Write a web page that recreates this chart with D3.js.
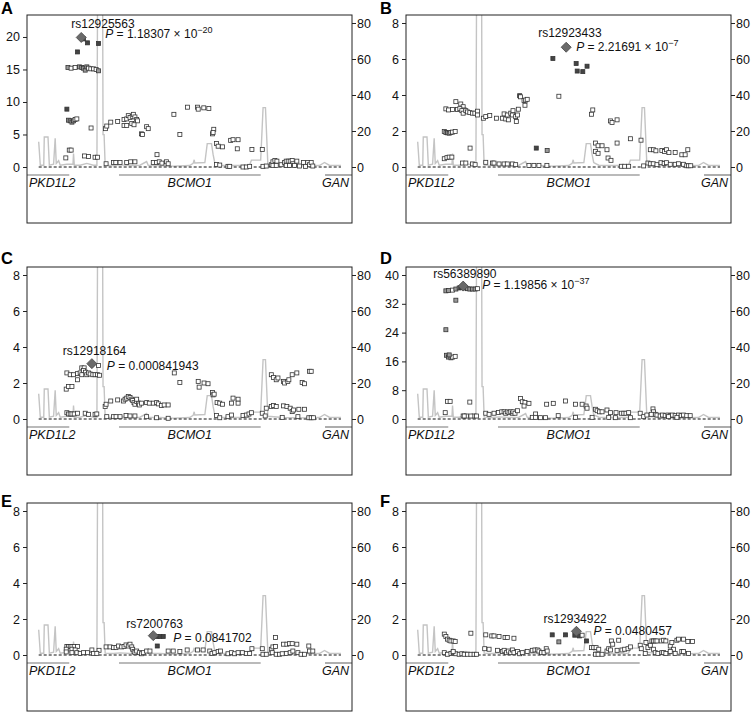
<!DOCTYPE html>
<html>
<head>
<meta charset="utf-8">
<script src="https://cdn.jsdelivr.net/npm/d3@7"></script>
<style>
  body { margin: 0; background: #fff; }
  svg { display: block; font-family: "Liberation Sans", Arial, sans-serif; }
</style>
</head>
<body>
<svg id="chart" width="752" height="712"></svg>
<script>
// region shown: ~122 kb of chr16 around BCMO1, positions are kb from the left edge
const regionKb = 122.25;

const panelLetters = ["A", "B", "C", "D", "E", "F"];
const leadIds = ["rs12925563", "rs12923433", "rs12918164", "rs56389890", "rs7200763", "rs12934922"];
const leadPos = [20.4, 60.25, 24.4, 21.5, 47.5, 64.1];
const leadPMant = ["1.18307", "2.21691", "0.000841943", "1.19856", "0.0841702", "0.0480457"];
const leadPExp = [-20, -7, 0, -37, 0, 0];

const leftMax = [22.15, 8, 8, 40, 8, 8];
const leftTicks = [
  [0, 5, 10, 15, 20],
  [0, 2, 4, 6, 8],
  [0, 2, 4, 6, 8],
  [0, 8, 16, 24, 32, 40],
  [0, 2, 4, 6, 8],
  [0, 2, 4, 6, 8],
];
const rightTicks = [0, 20, 40, 60, 80];

const geneNames = ["PKD1L2", "BCMO1", "GAN"];
const geneStart = [-10, 34.6, 112.1];
const geneEnd = [15.9, 87.9, 135];

// recombination rate (cM/Mb)
const recombPos = [4.4, 5.0, 6.3, 6.5, 7.9, 8.4, 10.0, 10.6, 11.0, 11.9, 12.5, 15.0, 17.3, 17.5, 17.8,
  20.0, 22.5, 25.0, 26.3, 26.6, 28.4, 28.6, 29.0, 29.4, 32.5, 35.0, 38.7, 42.5, 45.0, 45.6, 50.0,
  55.0, 61.2, 62.5, 62.9, 63.1, 66.9, 67.8, 69.4, 70.0, 70.6, 72.5, 77.5, 83.7, 84.4, 87.9, 88.8,
  89.7, 90.6, 96.3, 102.5, 110.0, 111.9, 113.7, 118.1];
const recombRate = [14, 1, 1, 16.7, 16.7, 1, 1.5, 16, 2, 3.5, 1, 1.5, 1.5, 7.5, 1,
  1, 2, 1, 1, 120, 120, 18, 18, 1, 0.8, 1.2, 0.8, 1, 3, 1, 0.8,
  0.5, 0.8, 2, 4, 2.2, 2.5, 13, 13, 7, 2.5, 1, 0.8, 1, 3.8, 3.8, 33,
  33, 1.5, 0.8, 0.6, 0.8, 2.5, 1, 0.8];

// SNPs: [position kb, -log10 P, LD shade 0 open / 1 grey / 2 dark]
const snpsA = [
  [21.25, 19.7, 2], [22.75, 19.1, 2], [26.9, 19.0, 2], [19, 17.7, 2],
  [15.4, 15.3, 1], [16.6, 15.2, 0], [18.1, 15.3, 0], [19.75, 15.4, 1], [20.6, 15.3, 1], [21.25, 15.2, 1],
  [21.9, 14.9, 1], [22.5, 15.4, 1], [23.1, 15.2, 0], [24, 15.1, 0], [25, 15.1, 0], [26, 15.0, 0], [26.9, 14.8, 1],
  [15, 8.9, 2], [15.6, 7.2, 1], [16.25, 7.1, 1], [16.9, 6.9, 1], [17.5, 7.1, 1], [18.1, 7.3, 0], [18.75, 7.4, 0],
  [24.1, 6.0, 0], [15.9, 2.6, 0], [16.6, 2.6, 0], [14.6, 1.4, 0], [21.6, 1.7, 0], [23.1, 1.6, 0], [25.6, 1.5, 0], [26.5, 1.5, 0],
  [29.5, 5.9, 0], [30, 6.3, 0], [31.5, 6.9, 0], [34.1, 7.0, 0], [36.5, 7.3, 0], [37.5, 7.4, 0], [38.1, 7.9, 0],
  [38.75, 7.6, 0], [39.6, 7.8, 0], [40, 8.1, 0], [40.6, 7.7, 0], [41.25, 7.3, 0], [41.6, 7.1, 0], [36.5, 6.4, 0],
  [37.5, 6.4, 0], [39.4, 6.7, 0], [40.25, 6.5, 0], [43.1, 5.1, 0], [43.4, 5.0, 0], [45, 6.2, 0], [45.6, 5.9, 0],
  [48.9, 1.9, 0], [55.25, 8.1, 0], [57.5, 5.0, 0], [60.4, 9.2, 0], [64.1, 9.2, 0], [64.4, 8.9, 0], [66.5, 9.1, 0], [68.4, 9.0, 0],
  [69.75, 5.1, 0], [70.25, 5.8, 0], [70, 5.3, 0], [71.25, 3.6, 0], [71.9, 3.2, 0], [73.5, 3.1, 0], [76.6, 4.1, 0],
  [77.5, 4.2, 0], [79.4, 4.2, 0], [79.1, 2.8, 0], [84.6, 2.7, 0], [88.5, 2.7, 0],
  [29.75, 0.5, 0], [32.5, 0.7, 0], [33.4, 0.7, 0], [35, 0.7, 0], [37.5, 0.7, 0], [39, 0.8, 0], [40.6, 0.8, 0],
  [47.5, 0.7, 0], [48.75, 0.7, 0], [49.75, 0.8, 0], [50.75, 0.6, 0], [52.5, 0.8, 0], [53.1, 0.5, 0], [71.25, 0.4, 0],
  [72.5, 0.3, 0], [75.6, 0.1, 0], [76.25, 0.1, 0], [81.25, 0, 0], [82.5, 0, 0], [83.75, 0.1, 0], [88.75, 0.1, 0],
  [90, 0.15, 0], [91.9, 0.35, 0], [92.5, 0.8, 0], [93.25, 1.0, 0], [94, 0.9, 0], [92.5, 0.25, 0], [93.75, 0.25, 0],
  [95.6, 0.35, 0], [96.9, 0.7, 0], [97.5, 0.9, 0], [98.25, 0.9, 0], [99, 0.9, 0], [99.75, 1.0, 0], [100, 0.5, 0],
  [100.6, 0.25, 0], [101.5, 0.9, 0], [102.5, 0.15, 0], [104, 0.7, 0], [104.75, 0.1, 0], [105.6, 0.7, 0],
  [106.25, 0.35, 0], [106.9, 0.7, 0], [107.5, 0.15, 0], [97.5, 0.25, 0], [98.75, 0.25, 0],
];

const snpsB = [
  [55.25, 6.03, 2], [64, 5.75, 2], [68.1, 5.6, 2], [64.4, 5.33, 2], [66.5, 5.3, 2], [57.5, 3.93, 0],
  [70.25, 3.17, 0], [69.75, 2.93, 0], [76.9, 2.56, 0], [77.5, 2.47, 0], [79.4, 2.62, 0], [84.4, 1.57, 0],
  [88.4, 1.49, 0], [79.4, 1.33, 0], [71.25, 1.33, 0], [72.25, 1.18, 0], [73.75, 1.18, 0], [71.25, 0.87, 0],
  [72.25, 0.76, 0], [75.6, 0.96, 0], [76, 0.5, 0], [77.1, 0.37, 0], [49, 1.05, 2], [53.1, 0.92, 1],
  [91.9, 0.96, 0], [93.1, 0.96, 0], [94, 0.9, 0], [96.25, 0.92, 0], [97.25, 0.86, 0], [98, 0.96, 0],
  [98.9, 0.8, 0], [101.25, 0.81, 0], [103.75, 0.68, 0], [105, 0.68, 0], [106, 0.96, 0],
  [91, 0.22, 0], [91.9, 0.18, 0], [93, 0.18, 0], [94.4, 0.13, 0], [95.9, 0.24, 0], [97.1, 0.2, 0], [98, 0.24, 0],
  [99.4, 0.15, 0], [101.25, 0.15, 0], [102.5, 0.18, 0], [104.4, 0.15, 0], [105.6, 0.07, 0], [106.25, 0.07, 0],
  [107.1, 0.07, 0], [81, 0.04, 0], [82.25, 0.04, 0], [83.75, 0.04, 0], [89.4, 0.06, 0], [46.25, 0.09, 0],
  [48.1, 0.09, 0], [50, 0.09, 0], [53, 0.09, 0],
  [18.75, 3.63, 0], [20.6, 3.5, 0], [21.5, 3.35, 0], [21.9, 3.17, 0], [15, 3.23, 0], [16, 3.17, 0], [17.5, 3.2, 0],
  [19.4, 3.2, 0], [20.25, 3.24, 0], [21, 3.13, 0], [21.5, 2.99, 0], [22.5, 3.13, 0], [23.1, 3.06, 0], [24, 3.02, 0],
  [25, 2.99, 0], [25.9, 2.99, 0], [26.9, 3.1, 0], [26.9, 2.89, 0],
  [14.4, 1.97, 0], [15, 1.92, 1], [15.6, 1.9, 1], [16.25, 1.88, 1], [16.9, 1.92, 0], [17.5, 1.94, 0], [18.5, 1.97, 0],
  [14.4, 0.46, 0], [15.4, 0.52, 0], [16.25, 0.55, 0], [17.25, 0.55, 0], [24.1, 1.05, 0], [21.25, 0.22, 0],
  [22.5, 0.22, 0], [25, 0.17, 0], [26, 0.13, 0],
  [29.1, 2.71, 0], [30, 2.8, 0], [31.5, 2.86, 0], [34, 2.71, 0], [36.25, 2.71, 0], [36.9, 2.95, 0], [37.5, 2.67, 0],
  [38.1, 2.89, 0], [38.5, 2.62, 0], [39.4, 2.99, 0], [40, 2.89, 0], [40.25, 3.13, 0], [41.25, 2.8, 0], [41.5, 2.53, 0],
  [41.9, 2.89, 0], [42.25, 3.21, 0], [42.75, 3.96, 2], [43.1, 3.9, 0], [44.4, 3.69, 0], [45, 3.72, 0], [45.6, 3.76, 0],
  [44.75, 3.43, 0],
  [30, 0.26, 0], [32.5, 0.22, 0], [33.1, 0.22, 0], [35, 0.17, 0], [36.9, 0.17, 0], [38.1, 0.17, 0], [40, 0.17, 0], [41.25, 0.13, 0],
];

const snpsC = [
  [26.9, 2.97, 0],
  [15, 2.56, 0], [16.25, 2.46, 0], [17.5, 2.46, 0], [19, 2.52, 0], [20, 2.56, 0], [20.6, 2.84, 0], [21.5, 2.84, 0],
  [21.25, 2.7, 0], [22, 2.6, 0], [22.5, 2.46, 0], [23.1, 2.56, 0], [23.75, 2.5, 0], [24.75, 2.46, 0], [25.6, 2.46, 0],
  [26.5, 2.46, 0], [27.25, 2.43, 0], [20.6, 2.46, 0], [19, 2.18, 0],
  [14.75, 1.66, 0], [15.6, 1.81, 0], [16.9, 1.81, 0],
  [15, 0.35, 0], [15.6, 0.28, 0], [16.25, 0.28, 0], [16.9, 0.28, 0], [17.75, 0.28, 0], [19, 0.32, 0], [21.9, 0.32, 0],
  [23.1, 0.26, 0], [25.6, 0.26, 0], [26.25, 0.28, 0],
  [29.4, 0.69, 0], [29.75, 0.82, 0], [31.5, 1.0, 0], [34.1, 1.06, 0], [36.25, 1.0, 0], [36.9, 1.1, 0], [37.5, 1.16, 0],
  [38.1, 1.25, 0], [38.75, 1.19, 0], [39.4, 1.1, 0], [39.75, 1.03, 0], [40.25, 0.91, 0], [40.6, 0.82, 0], [41.25, 0.97, 0],
  [41.9, 0.88, 0], [42.25, 0.78, 0], [43.1, 0.88, 0], [45, 0.91, 0], [46, 0.88, 0], [47.5, 0.88, 0], [48.75, 0.91, 0],
  [49.4, 0.84, 0], [50.6, 0.75, 0], [51.6, 0.78, 0], [53.1, 0.78, 0], [41.25, 1.1, 0],
  [55.4, 2.56, 0], [57.5, 2.03, 0], [64.4, 2.09, 0], [64.75, 1.77, 0], [66.6, 2.0, 0], [68.1, 1.96, 0], [69.75, 1.47, 0],
  [70, 1.34, 0], [70.4, 1.38, 0], [71.5, 0.91, 0], [72.5, 0.88, 0], [73.5, 0.82, 0], [76.9, 0.88, 0], [77.5, 1.16, 0],
  [79.4, 1.1, 0], [79.4, 0.88, 0],
  [30, 0.13, 0], [32.5, 0.13, 0], [33.5, 0.13, 0], [35, 0.13, 0], [37.25, 0.19, 0], [38.75, 0.17, 0], [40.6, 0.17, 0],
  [45, 0.13, 0], [48.75, 0.07, 0], [53.1, 0.04, 0], [71.25, 0.19, 0], [72.5, 0.07, 0], [75.6, 0.13, 0], [76.9, 0.22, 0],
  [81.25, 0.19, 0], [82.5, 0.22, 0], [83.5, 0.28, 0], [84.4, 0.35, 0], [88.5, 0.32, 0], [89.6, 0.17, 0], [96, 0.09, 0],
  [101.9, 0.13, 0], [106, 0.07, 0], [106.9, 0.07, 0], [107.75, 0.07, 0],
  [91.9, 2.46, 0], [92.75, 2.31, 0], [93.75, 2.18, 0], [94.4, 2.28, 0], [96.5, 2.09, 0], [96.9, 2.0, 0], [98.1, 2.09, 0],
  [98.5, 2.18, 0], [99.75, 2.46, 0], [101.5, 2.56, 0], [106.25, 2.65, 0], [106.9, 2.65, 0], [103.5, 2.03, 0], [104.4, 1.96, 0],
  [90, 0.6, 0], [91.9, 0.69, 0], [92.75, 0.75, 0], [93.75, 0.69, 0], [96.5, 0.73, 0], [97.75, 0.69, 0], [99, 0.6, 0],
  [99.75, 0.41, 0], [100.25, 0.5, 0], [102.25, 0.54, 0], [104.4, 0.54, 0],
];

const snpsD = [
  [15, 35.6, 1], [16, 35.7, 1], [17.5, 35.8, 0], [18.75, 36.1, 1], [20, 36.4, 1], [20.6, 36.5, 2], [22.25, 36.4, 1],
  [23.1, 36.2, 1], [24, 36.1, 1], [25, 36.1, 1], [26, 36.1, 1], [26.9, 36.2, 0],
  [18.75, 33.0, 1], [15, 24.8, 1], [15.25, 17.7, 1], [16, 17.2, 1], [16.9, 17.0, 1], [17.5, 17.2, 0], [18.5, 17.4, 0],
  [16.25, 17.8, 1], [15.6, 4.9, 0], [16.6, 4.9, 0], [14.75, 1.76, 0], [24, 4.7, 0],
  [21.5, 0.83, 0], [22.75, 0.83, 0], [25.6, 0.83, 0], [26.5, 0.83, 0], [21.9, 0.83, 0], [24.4, 0.83, 0],
  [30, 1.6, 0], [31.25, 1.3, 0], [33.1, 1.6, 0], [34.75, 1.8, 0], [36, 2.0, 0], [36.9, 2.0, 0], [37.5, 1.6, 0],
  [38.1, 2.0, 0], [38.75, 1.76, 0], [39.4, 2.0, 0], [40, 1.6, 0], [40.25, 2.0, 0], [41, 1.6, 0], [41.9, 2.3, 0],
  [43.1, 5.7, 0], [43.75, 4.8, 0], [44.75, 4.6, 0], [44.4, 3.6, 0], [46.25, 4.35, 0],
  [48.75, 1.4, 0], [52.9, 4.1, 0], [55.4, 4.35, 0], [60, 5.0, 0], [63.75, 4.1, 0], [66.25, 4.1, 0], [67.75, 3.6, 0],
  [68.1, 3.0, 0], [57.25, 0.93, 0], [63.75, 0.46, 0], [71.25, 2.7, 0], [71.9, 2.3, 0], [72.75, 2.0, 0], [73.75, 2.0, 0],
  [75.6, 2.5, 0], [76.9, 1.76, 0], [79, 1.76, 0], [81, 1.6, 0], [81.9, 1.6, 0], [82.75, 1.6, 0], [83.75, 1.76, 0],
  [88.1, 1.6, 0], [92.9, 2.8, 0], [93.1, 2.0, 0], [93.75, 1.3, 0],
  [47.5, 0.46, 0], [48.75, 0.46, 0], [50.6, 0.37, 0], [52.5, 0.37, 0], [70, 0.46, 0], [76.25, 0.46, 0], [78.75, 0.37, 0],
  [84.4, 0.37, 0], [89.4, 0.65, 0], [90.6, 1.1, 0], [92.25, 1.3, 0], [94.4, 1.1, 0], [95.6, 0.83, 0], [96.5, 1.1, 0],
  [97.5, 0.93, 0], [98.5, 1.1, 0], [99.4, 0.93, 0], [100.25, 1.1, 0], [101.25, 0.93, 0], [102.5, 1.1, 0],
  [103.5, 0.93, 0], [104.4, 1.1, 0], [105.6, 0.93, 0], [106.9, 0.93, 0], [98.75, 0.65, 0], [101.9, 0.46, 0],
];

const snpsE = [
  [49, 1.03, 2], [50, 1.03, 2], [51.25, 1.03, 2],
  [15, 0.47, 0], [15.6, 0.47, 0], [16.25, 0.47, 0], [16.9, 0.47, 0], [17.75, 0.47, 0], [19, 0.47, 0], [14.75, 0.32, 0],
  [16.9, 0.32, 0], [18.1, 0.28, 0], [14.75, 0.17, 0], [16.9, 0.13, 0], [18.75, 0.13, 0], [20, 0.09, 0], [21.25, 0.13, 0],
  [22.75, 0.13, 0], [24.4, 0.28, 0], [25, 0.09, 0], [27.1, 0.26, 0], [26.25, 0.09, 0],
  [29.75, 0.45, 0], [31.25, 0.45, 0], [32.5, 0.41, 0], [33.5, 0.41, 0], [34.4, 0.5, 0], [35.6, 0.45, 0], [36.5, 0.47, 0],
  [37.25, 0.56, 0], [38.1, 0.5, 0], [38.75, 0.6, 0], [39.4, 0.45, 0], [39.75, 0.32, 0], [40.25, 0.19, 0], [40.6, 0.13, 0],
  [41.25, 0.22, 0], [42.25, 0.13, 0], [43.1, 0.07, 0], [43.75, 0.13, 0], [45, 0.22, 0], [46.25, 0.22, 0], [49, 0.5, 2],
  [53.1, 0.22, 0], [55, 0.22, 0], [57.5, 0.19, 0], [60.25, 0.28, 0], [64.1, 0.28, 0], [66.25, 0.28, 0], [68.75, 0.22, 0],
  [69.6, 0.09, 0], [70.6, 0.13, 0], [71.9, 0.19, 0], [72.75, 0.22, 0], [75.6, 0.07, 0], [76.9, 0.13, 0], [78.1, 0.07, 0],
  [79.4, 0.13, 0], [81, 0.13, 0], [82.5, 0.09, 0], [83.75, 0.09, 0], [84.6, 0.35, 0], [88.5, 0.35, 0], [88.75, 0.04, 0],
  [90, 0.04, 0], [91.9, 0.32, 0], [92.5, 0.45, 0], [93.5, 0.47, 0], [93.5, 0.97, 0], [92.25, 0.13, 0], [93.75, 0.04, 0],
  [95, 0.04, 0], [96.5, 0.6, 0], [97.75, 0.6, 0], [98.75, 0.63, 0], [99.75, 0.63, 0], [101.5, 0.6, 0], [97.5, 0.09, 0],
  [99, 0.13, 0], [100, 0.22, 0], [101.9, 0.13, 0], [103.1, 0.04, 0], [104.4, 0.04, 0], [106, 0.5, 0], [106.25, 0.22, 0],
  [107.5, 0.22, 0], [96, 0.07, 0],
];

const snpsF = [
  [55, 1.12, 2], [57.5, 0.73, 1], [60, 1.12, 2], [63.5, 1.1, 2], [65.25, 1.06, 2], [66.25, 1.1, 0], [67.9, 0.78, 2],
  [14.4, 1.16, 0], [15, 1.03, 0], [15.6, 0.88, 0], [16.25, 0.82, 0], [16.9, 0.78, 0], [17.75, 0.78, 0], [18.5, 0.75, 0],
  [24.4, 1.21, 0],
  [14.4, 0.13, 0], [15.6, 0.04, 0], [16.9, 0.09, 0], [17.75, 0.13, 0], [18.75, 0.07, 0], [20, 0.04, 0], [21, 0.07, 0],
  [21.9, 0.04, 0], [23.1, 0.04, 0], [24.4, 0.04, 0], [25.6, 0.04, 0], [26.5, 0.04, 0], [17.75, 0.19, 0],
  [30, 1.12, 0], [32.25, 1.06, 0], [33.1, 1.06, 0], [35, 1.03, 0], [37.25, 0.97, 0], [38.1, 0.97, 0], [40.6, 0.93, 0],
  [29.6, 0.35, 0], [31.25, 0.32, 0], [34.4, 0.26, 0], [36.25, 0.19, 0], [36.9, 0.26, 0], [37.75, 0.13, 0], [38.5, 0.22, 0],
  [39.4, 0.13, 0], [40, 0.28, 0], [40.6, 0.13, 0], [41.9, 0.19, 0], [42.75, 0.07, 0], [43.75, 0.13, 0], [45.6, 0.19, 0],
  [47.5, 0.26, 0], [48.5, 0.28, 0], [49.4, 0.28, 0], [50, 0.22, 0], [51, 0.13, 0], [51.9, 0.13, 0], [52.75, 0.35, 0],
  [53.1, 0.22, 0],
  [69.75, 0.41, 0], [70.6, 0.41, 0], [71.5, 0.41, 0], [72.5, 0.32, 0], [71.25, 0.04, 0], [72.25, 0.04, 0], [73.75, 0.04, 0],
  [75.6, 0.22, 0], [76.25, 0.35, 0], [76.9, 0.28, 0], [77.25, 0.78, 0], [77.75, 0.6, 0], [79.4, 0.26, 0], [80, 0.82, 0],
  [81.25, 0.28, 0], [82.25, 0.32, 0], [83.5, 0.35, 0], [84.4, 0.45, 0], [88.1, 0.54, 0], [88.5, 0.35, 0], [90, 0.09, 0],
  [90.25, 0.69, 0], [91, 0.41, 0], [91.9, 0.54, 0], [92.5, 0.78, 0], [93.1, 0.78, 0], [93.75, 0.78, 0], [94.4, 0.78, 0],
  [93.1, 0.32, 0], [93.75, 0.13, 0], [94.75, 0.09, 0], [96, 0.78, 0], [96.9, 0.82, 0], [97.75, 0.78, 0], [99.4, 0.5, 0],
  [100, 0.69, 0], [100.6, 0.32, 0], [101.9, 0.82, 0], [102.5, 0.88, 0], [104.4, 0.88, 0], [106, 0.75, 0], [107.75, 0.75, 0],
  [96.25, 0.13, 0], [96.9, 0.13, 0], [97.75, 0.09, 0], [99.4, 0.19, 0], [101.25, 0.09, 0], [103.75, 0.19, 0],
  [104.4, 0.19, 0], [106.25, 0.09, 0],
];

const snps = [snpsA, snpsB, snpsC, snpsD, snpsE, snpsF];

// layout of each panel box and its lead-SNP label offsets
const frameW = 325, frameH = 208, plotTop = 8, zeroY = 152;
const layout = [
  { left: 27, top: 15, letterY: 14, rs: [-10, -9], p: [24, 1] },
  { left: 406, top: 15, letterY: 14, rs: [-28, -10], p: [10, 4] },
  { left: 27, top: 267, letterY: 264, rs: [-29, -9], p: [15, 6] },
  { left: 406, top: 267, letterY: 264, rs: [-30, -8], p: [19, 3] },
  { left: 27, top: 503, letterY: 507, rs: [-27, -8], p: [20, 6] },
  { left: 406, top: 503, letterY: 507, rs: [-33, -8], p: [17, 4] },
];
const shade = ["#fff", "#9a9a9a", "#444"];

const svg = d3.select("#chart");

panelLetters.forEach((letter, i) => {
  const L = layout[i];
  const y0 = L.top + zeroY;
  const x = d3.scaleLinear().domain([0, regionKb]).range([L.left, L.left + frameW]);
  const y = d3.scaleLinear().domain([0, leftMax[i]]).range([y0, L.top + plotTop]);
  const yR = d3.scaleLinear().domain([0, 80]).range([y0, L.top + plotTop]);
  const g = svg.append("g");

  g.append("clipPath").attr("id", `clip-${i}`)
    .append("rect").attr("x", L.left).attr("y", L.top).attr("width", frameW).attr("height", frameH);

  // recombination rate
  g.append("path")
    .datum(recombPos.map((p, k) => [p, recombRate[k]]))
    .attr("clip-path", `url(#clip-${i})`)
    .attr("fill", "none")
    .attr("stroke", "#c4c4c4")
    .attr("stroke-width", 1.4)
    .attr("d", d3.line().x((d) => x(d[0])).y((d) => yR(d[1])));

  // zero line
  const ext = d3.extent(recombPos);
  g.append("line")
    .attr("x1", x(ext[0])).attr("x2", x(ext[1]))
    .attr("y1", y0).attr("y2", y0)
    .attr("stroke", "#111").attr("stroke-dasharray", "3,2");

  // genes
  const clampX = (v) => x(Math.max(0, Math.min(regionKb, v)));
  geneNames.forEach((name, k) => {
    g.append("line")
      .attr("x1", clampX(geneStart[k])).attr("x2", clampX(geneEnd[k]))
      .attr("y1", y0 + 8).attr("y2", y0 + 8)
      .attr("stroke", "#777").attr("stroke-width", 1.2);
    const anchor = k === 0 ? "start" : k === 1 ? "middle" : "end";
    const tx = k === 0 ? L.left + 2 : k === 1 ? x((geneStart[k] + geneEnd[k]) / 2) : L.left + frameW - 3;
    g.append("text")
      .attr("x", tx).attr("y", y0 + 20)
      .attr("text-anchor", anchor)
      .attr("font-style", "italic")
      .attr("font-size", 12.5)
      .attr("fill", "#111")
      .text(name);
  });

  // SNP squares
  g.append("g")
    .selectAll("rect")
    .data(snps[i])
    .join("rect")
    .attr("x", (d) => x(d[0]) - 2)
    .attr("y", (d) => y(d[1]) - 2)
    .attr("width", 4)
    .attr("height", 4)
    .attr("fill", (d) => shade[d[2]])
    .attr("stroke", "#333")
    .attr("stroke-width", 0.8);

  // lead SNP
  const leadLogP = -(Math.log10(+leadPMant[i]) + leadPExp[i]);
  const lx = x(leadPos[i]), ly = y(leadLogP);
  g.append("path")
    .attr("d", d3.symbol(d3.symbolSquare, 50)())
    .attr("transform", `translate(${lx},${ly}) rotate(45)`)
    .attr("fill", "#6a6a6a")
    .attr("stroke", "#4a4a4a")
    .attr("stroke-width", 0.8);

  g.append("text")
    .attr("x", lx + L.rs[0]).attr("y", ly + L.rs[1])
    .attr("font-size", 12).attr("fill", "#111")
    .text(leadIds[i]);
  const pt = g.append("text")
    .attr("x", lx + L.p[0]).attr("y", ly + L.p[1])
    .attr("font-size", 12).attr("fill", "#111");
  pt.append("tspan").attr("font-style", "italic").text("P");
  if (leadPExp[i] !== 0) {
    pt.append("tspan").text(` = ${leadPMant[i]} \u00d7 10`);
    pt.append("tspan").attr("dy", -5).attr("font-size", 9).text(`\u2212${-leadPExp[i]}`);
  } else {
    pt.append("tspan").text(` = ${leadPMant[i]}`);
  }

  // axes
  const gl = g.append("g")
    .attr("transform", `translate(${L.left},0)`)
    .call(d3.axisLeft(y).tickValues(leftTicks[i]).tickSize(4).tickPadding(3));
  const gr = g.append("g")
    .attr("transform", `translate(${L.left + frameW},0)`)
    .call(d3.axisRight(yR).tickValues(rightTicks).tickSize(4).tickPadding(1));
  [gl, gr].forEach((a) => {
    a.select(".domain").remove();
    a.selectAll("text").attr("font-size", 12.5).attr("fill", "#111")
      .attr("font-family", '"Liberation Sans", Arial, sans-serif');
    a.selectAll("line").attr("stroke", "#222");
  });

  // frame
  g.append("rect")
    .attr("x", L.left).attr("y", L.top)
    .attr("width", frameW).attr("height", frameH)
    .attr("fill", "none").attr("stroke", "#222").attr("stroke-width", 1);

  // panel letter
  g.append("text")
    .attr("x", L.left - 26).attr("y", L.letterY)
    .attr("font-size", 16.5).attr("font-weight", "bold").attr("fill", "#000")
    .text(letter);
});
</script>
</body>
</html>
